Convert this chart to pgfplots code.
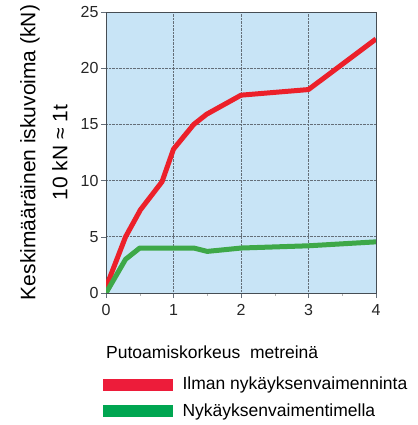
\documentclass[border=0pt]{standalone}
\usepackage{pgfplots}
\pgfplotsset{compat=1.18}
\usepackage{fontspec}
\setmainfont{Liberation Sans}
\definecolor{bgblue}{RGB}{200,228,246}
\definecolor{redline}{RGB}{236,32,42}
\definecolor{greenline}{RGB}{62,168,72}
\definecolor{redleg}{RGB}{237,28,58}
\definecolor{greenleg}{RGB}{0,166,81}
\definecolor{gridc}{RGB}{100,110,120}
\begin{document}
\begin{tikzpicture}
\path[use as bounding box] (0,0) rectangle (418bp,425bp);
\begin{axis}[
  name=ax,
  at={(106bp,132bp)}, anchor=south west,
  scale only axis, width=270bp, height=281bp,
  xmin=0, xmax=4, ymin=0, ymax=25,
  xtick={0,1,2,3,4}, ytick={0,5,10,15,20,25},
  minor xtick={0.5,1.5,2.5,3.5},
  tick align=outside, tick pos=left,
  major tick length=5bp, minor tick length=3bp,
  minor tick style={gray!60},
  major tick style={gridc, line width=0.6pt},
  axis background/.style={fill=bgblue},
  axis line style={gridc!70!black, line width=0.8pt},
  grid=major,
  major grid style={gridc, densely dotted, line width=0.7pt},
  /pgf/number format/assume math mode=true,
  tick label style={font=\fontsize{16bp}{18bp}\selectfont, text=black!85},
  yticklabel style={xshift=1bp},
  xticklabel style={yshift=-3bp},
  ylabel={Keskimääräinen iskuvoima (kN)\\10 kN ≈ 1t},
  ylabel style={align=center, font=\fontsize{21bp}{32bp}\selectfont, at={(axis description cs:0,0.5)}, anchor=south, yshift=35bp},
  legend style={at={(axis description cs:0,0)}, anchor=north west, xshift=-3bp, yshift=-82bp, draw=none, fill=none,
     font=\fontsize{17.5bp}{19bp}\selectfont, row sep=8bp, inner sep=0pt},
  legend cell align=left,
]
\addplot[redline, line width=5bp, line join=round, forget plot] coordinates {
(0,0.5) (0.29,5.0) (0.51,7.4) (0.83,9.9) (1.0,12.8) (1.3,15.0) (1.49,15.9) (2.0,17.6) (3.0,18.1) (4.0,22.6)};
\addplot[greenline, line width=5bp, line join=round, forget plot] coordinates {
(0,0) (0.29,3.0) (0.5,4.0) (1.3,4.0) (1.5,3.7) (2.0,4.0) (3.0,4.2) (4.0,4.55)};
\addlegendimage{legend image code/.code={\fill[redleg] (0bp,-5.5bp) rectangle (69bp,5.5bp);}}
\addlegendentry{\hspace{8bp}Ilman nykäyksenvaimenninta}
\addlegendimage{legend image code/.code={\fill[greenleg] (0bp,-5.5bp) rectangle (69bp,5.5bp);}}
\addlegendentry{\hspace{8bp}Nykäyksenvaimentimella}
\end{axis}
\node[anchor=west, font=\fontsize{17.5bp}{19bp}\selectfont, inner sep=0pt] at ([yshift=-59bp]ax.south west) {Putoamiskorkeus\ \ metreinä};
\end{tikzpicture}
\end{document}
